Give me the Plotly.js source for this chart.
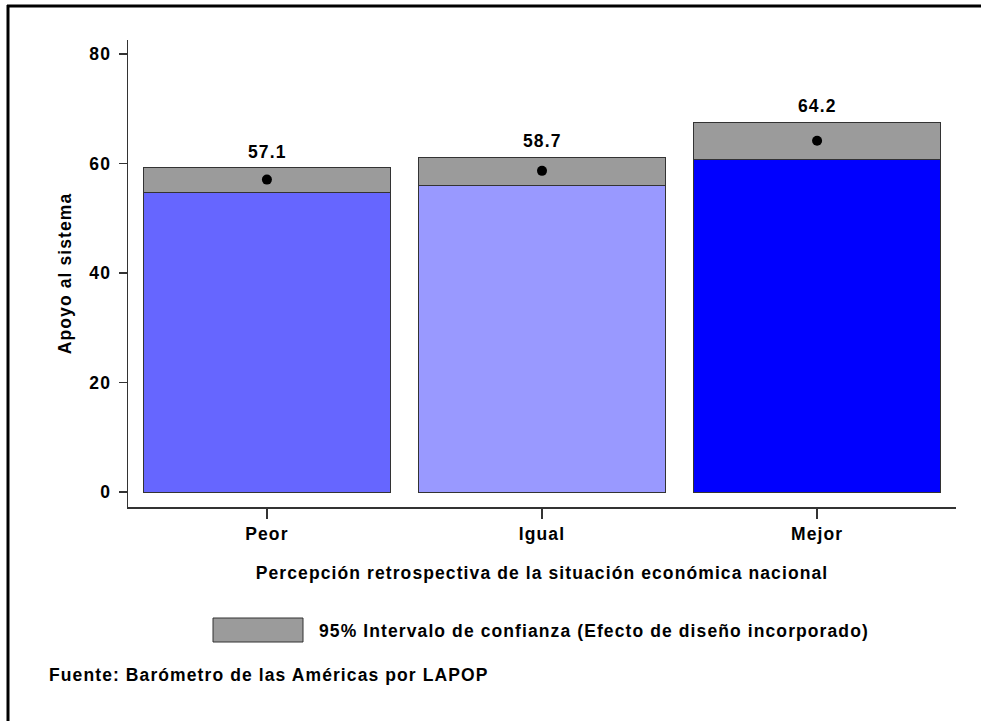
<!DOCTYPE html>
<html>
<head>
<meta charset="utf-8">
<script src="https://cdn.plot.ly/plotly-3.0.1.min.js"></script>
<style>
  html, body { margin: 0; padding: 0; background: #fff; }
  #chart { width: 981px; height: 721px; }
  svg text { letter-spacing: 1.1px; }
</style>
</head>
<body>
<div id="chart"></div>
<script>
// ---- data ----
const categories = ["Peor", "Igual", "Mejor"];
const means = [57.1, 58.7, 64.2];
const ciLower = [54.8, 56.1, 60.8];
const ciUpper = [59.3, 61.2, 67.6];
const barColors = ["#6666FF", "#9999FF", "#0000FF"];
const yTicks = [0, 20, 40, 60, 80];

const xTitle = "Percepción retrospectiva de la situación económica nacional";
const yTitle = "Apoyo al sistema";
const legendText = "95% Intervalo de confianza (Efecto de diseño incorporado)";
const sourceText = "Fuente: Barómetro de las Américas por LAPOP";

// ---- layout helpers (plot area in pixels) ----
const W = 981, H = 721;
const L = 128, R = 956, T = 40, B = 507;
const px = x => (x - L) / (R - L);
const py = y => (B - y) / (B - T);

const FONT = "Arial, 'Liberation Sans', sans-serif";
const FS = 17.5;
const outline = { color: "#333333", width: 1 };

const traces = [
  {
    type: "bar", x: categories, y: ciLower,
    marker: { color: barColors, line: outline },
    hoverinfo: "skip", showlegend: false
  },
  {
    type: "bar", x: categories,
    y: ciUpper.map((u, i) => u - ciLower[i]),
    marker: { color: "#9B9B9B", line: outline },
    hoverinfo: "skip", showlegend: false
  },
  {
    type: "scatter", mode: "markers", x: categories, y: means,
    marker: { color: "#000000", size: 10 },
    hoverinfo: "skip", showlegend: false
  }
];

const annotations = categories.map((c, i) => ({
  x: c, y: ciUpper[i], xref: "x", yref: "y",
  text: means[i].toFixed(1), showarrow: false,
  yanchor: "bottom", yshift: 4,
  font: { family: FONT, size: FS, color: "#000", weight: "bold" }
}));

annotations.push({
  x: px(317), y: py(631), xref: "paper", yref: "paper",
  xanchor: "left", yanchor: "middle", showarrow: false,
  text: legendText,
  font: { family: FONT, size: FS, color: "#000", weight: "bold" }
});
annotations.push({
  x: px(47), y: py(675), xref: "paper", yref: "paper",
  xanchor: "left", yanchor: "middle", showarrow: false,
  text: sourceText,
  font: { family: FONT, size: FS, color: "#000", weight: "bold" }
});

const shapes = [
  { type: "rect", xref: "paper", yref: "paper",
    x0: px(213), x1: px(303), y0: py(618), y1: py(642),
    fillcolor: "#9B9B9B", line: { color: "#333333", width: 1 } },
  { type: "line", xref: "paper", yref: "paper",
    x0: px(7), x1: px(W + 5), y0: py(6), y1: py(6),
    line: { color: "#000", width: 3 } },
  { type: "line", xref: "paper", yref: "paper",
    x0: px(8), x1: px(8), y0: py(5), y1: py(H + 5),
    line: { color: "#000", width: 3 } }
];

const layout = {
  width: W, height: H,
  margin: { l: L, r: W - R, t: T, b: H - B, pad: 0 },
  paper_bgcolor: "#fff", plot_bgcolor: "#fff",
  barmode: "stack", bargap: 0.105,
  font: { family: FONT, color: "#000" },
  xaxis: {
    type: "category", range: [-0.505, 2.505],
    showline: true, linecolor: "#333", linewidth: 1.5,
    ticks: "outside", ticklen: 10, tickcolor: "#333", tickwidth: 1.5,
    showgrid: false, zeroline: false,
    tickfont: { family: FONT, size: FS, weight: "bold" },
    title: { text: xTitle, standoff: 24,
             font: { family: FONT, size: FS, weight: "bold" } }
  },
  yaxis: {
    range: [-2.7, 82.6],
    tickvals: yTicks, ticktext: yTicks.map(String),
    showline: true, linecolor: "#333", linewidth: 1.5,
    ticks: "outside", ticklen: 8, tickcolor: "#333", tickwidth: 1.5,
    showgrid: false, zeroline: false,
    tickfont: { family: FONT, size: FS, weight: "bold" },
    ticklabelstandoff: 4,
    title: { text: yTitle, standoff: 13,
             font: { family: FONT, size: FS, weight: "bold" } }
  },
  annotations: annotations,
  shapes: shapes
};

Plotly.newPlot("chart", traces, layout, { displayModeBar: false, staticPlot: true });
</script>
</body>
</html>
